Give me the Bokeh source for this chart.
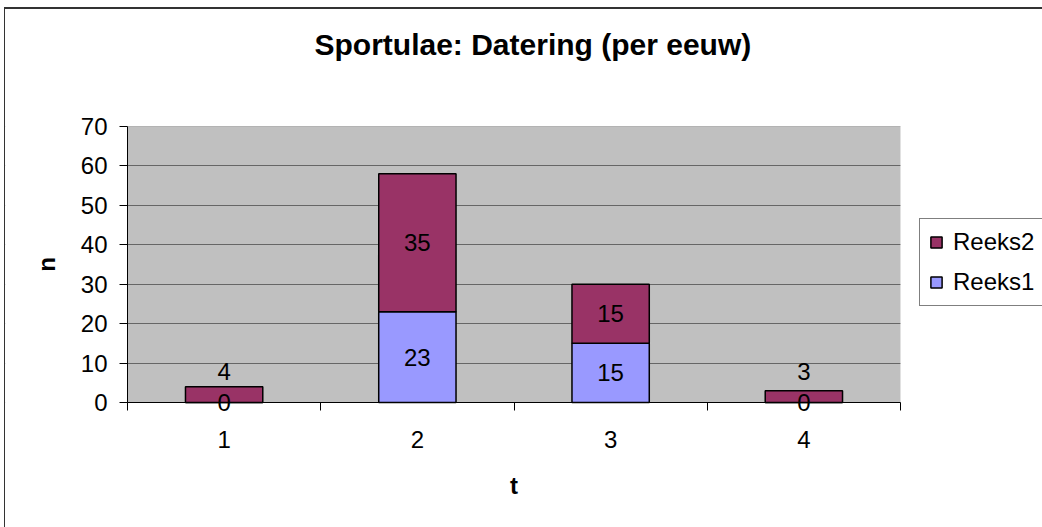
import math
from bokeh.plotting import figure
from bokeh.models import (ColumnDataSource, FixedTicker, Legend, LegendItem,
                          LabelSet, Label, Range1d, Title, BoxAnnotation)
from bokeh.core.properties import value
from bokeh.embed import file_html
from bokeh.resources import INLINE

# ---- data ----
t_values = [1, 2, 3, 4]
t_labels = ["1", "2", "3", "4"]
reeks1 = [0, 23, 15, 0]
reeks2 = [4, 35, 15, 3]
y_ticks = [0, 10, 20, 30, 40, 50, 60, 70]
title_text = "Sportulae: Datering (per eeuw)"
x_title = "t"
y_title = "n"

FONT = "Liberation Sans"
C1 = "#9999FF"
C2 = "#993366"
GRAY = "#C0C0C0"

# ---- layout (pixels) ----
W, H = 1042, 527
FRAME_L, FRAME_T = 5, 100        # top-left of the (invisible) plot frame
PLOT_L, PLOT_T = 127, 126        # top-left of the grey plot area
PLOT_R, PLOT_B = 900, 402        # right / bottom of the grey plot area

x0, x1 = t_values[0] - 0.5, t_values[-1] + 0.5
y0, y1 = y_ticks[0], y_ticks[-1]
# the frame extends around the grey area, so that axes drawn at its edges,
# their labels, the data labels and the legend are never clipped
ppx = (PLOT_R - PLOT_L) / (x1 - x0)
ppy = (PLOT_B - PLOT_T) / (y1 - y0)
x_lo = x0 - (PLOT_L - FRAME_L) / ppx
x_hi = x1 + (W - PLOT_R) / ppx
y_lo = y0 - (H - PLOT_B) / ppy
y_hi = y1 + (PLOT_T - FRAME_T) / ppy

# label positions derived from the data
lab1_y = [a / 2 for a in reeks1]
lab2_y = [max(a + b / 2, a / 2 + 7.8) for a, b in zip(reeks1, reeks2)]

source = ColumnDataSource(dict(
    t=t_values, r1=reeks1, r2=reeks2,
    y1=lab1_y, y2=lab2_y,
    txt1=[str(v) for v in reeks1], txt2=[str(v) for v in reeks2],
))

p = figure(width=W, height=H,
           x_range=Range1d(x_lo, x_hi), y_range=Range1d(y_lo, y_hi),
           output_backend="svg", toolbar_location=None,
           min_border_left=FRAME_L, min_border_right=0,
           min_border_top=FRAME_T, min_border_bottom=0)

p.background_fill_color = "white"
p.border_fill_color = None
p.outline_line_color = None
p.styles = {"background": "white",
            "box-shadow": "inset 4px 7px 0 0 #ffffff, inset 5px 9px 0 0 #333333"}

# grey plot area
p.add_layout(BoxAnnotation(left=x0, right=x1, bottom=y0, top=y1,
                           fill_color=GRAY, fill_alpha=1.0,
                           line_color="#808080", line_width=1, level="image"))
# white covers outside the plot area (hide grid lines there)
ex = 1.0
for kw in (dict(left=x1, right=x_hi + ex, bottom=y_lo - 10 * ex, top=y_hi + 10 * ex),
           dict(left=x_lo - ex, right=x0, bottom=y_lo - 10 * ex, top=y_hi + 10 * ex),
           dict(left=x_lo - ex, right=x_hi + ex, bottom=y_lo - 10 * ex, top=y0),
           dict(left=x_lo - ex, right=x_hi + ex, bottom=y1, top=y_hi + 10 * ex)):
    p.add_layout(BoxAnnotation(fill_color="white", fill_alpha=1.0,
                               line_color=None, level="underlay", **kw))

# title (spacer first, nearest to the frame)
p.add_layout(Title(text=" ", text_font_size="10px", standoff=27), "above")
p.add_layout(Title(text=title_text, align="left", offset=314 - FRAME_L, standoff=0,
                   text_font=FONT, text_font_size="30px",
                   text_font_style="bold", text_color="black"), "above")

# bars
rs = p.vbar_stack(["r1", "r2"], x="t", width=0.4, color=[C1, C2],
                  line_color="black", line_width=1.5, source=source)

# x axis, drawn at y = 0
boundaries = [t - 0.5 for t in t_values] + [t_values[-1] + 0.5]
xa = p.xaxis[0]
xa.fixed_location = y0
xa.bounds = (x0, x1)
xa.ticker = FixedTicker(ticks=t_values, minor_ticks=boundaries)
xa.major_label_overrides = {t: l for t, l in zip(t_values, t_labels)}
xa.major_tick_out = 0
xa.major_tick_in = 0
xa.minor_tick_out = 8
xa.minor_tick_in = 0
xa.minor_tick_line_color = "black"
xa.axis_line_color = "black"
xa.major_label_standoff = 20
xa.major_label_text_font = FONT
xa.major_label_text_font_size = "24px"
xa.major_label_text_color = "black"
xa.axis_label = x_title
xa.axis_label_text_font = FONT
xa.axis_label_text_font_size = "24px"
xa.axis_label_text_font_style = "bold"
xa.axis_label_text_color = "black"
xa.axis_label_standoff = 21

# y axis, drawn at the left edge of the plot area
ya = p.yaxis[0]
ya.fixed_location = x0
ya.bounds = (y0, y1)
ya.ticker = FixedTicker(ticks=y_ticks)
ya.major_tick_out = 8
ya.major_tick_in = 0
ya.minor_tick_out = 0
ya.minor_tick_in = 0
ya.major_tick_line_color = "black"
ya.axis_line_color = "black"
ya.major_label_standoff = 12
ya.major_label_text_font = FONT
ya.major_label_text_font_size = "24px"
ya.major_label_text_color = "black"

# y axis title, centred on the plot area
p.add_layout(Label(x=x0, y=(y0 + y1) / 2, x_offset=-81, text=y_title,
                   angle=math.pi / 2, text_align="center",
                   text_baseline="middle", text_font=FONT,
                   text_font_size="24px", text_font_style="bold",
                   text_color="black"))

p.xgrid.visible = False
p.ygrid.grid_line_color = "#666666"
p.ygrid.grid_line_width = 1

# data labels
for ycol, tcol in (("y1", "txt1"), ("y2", "txt2")):
    p.add_layout(LabelSet(x="t", y=ycol, text=tcol, source=source,
                          text_align="center", text_baseline="middle",
                          text_font=value(FONT), text_font_size="24px",
                          text_color="black"))

# legend (inside the extended frame, right of the grey area)
legend = Legend(items=[LegendItem(label="Reeks2", renderers=[rs[1]]),
                       LegendItem(label="Reeks1", renderers=[rs[0]])],
                location=(919 - FRAME_L, 221))
legend.label_text_font = FONT
legend.label_text_font_size = "24px"
legend.label_text_color = "black"
legend.glyph_width = 14
legend.glyph_height = 14
legend.label_standoff = 10
legend.spacing = 12
legend.padding = 9
legend.margin = 0
legend.border_line_color = "black"
legend.border_line_width = 1
legend.background_fill_color = "white"
legend.background_fill_alpha = 1.0
p.add_layout(legend)

open("out.html", "w").write(file_html(p, INLINE))
